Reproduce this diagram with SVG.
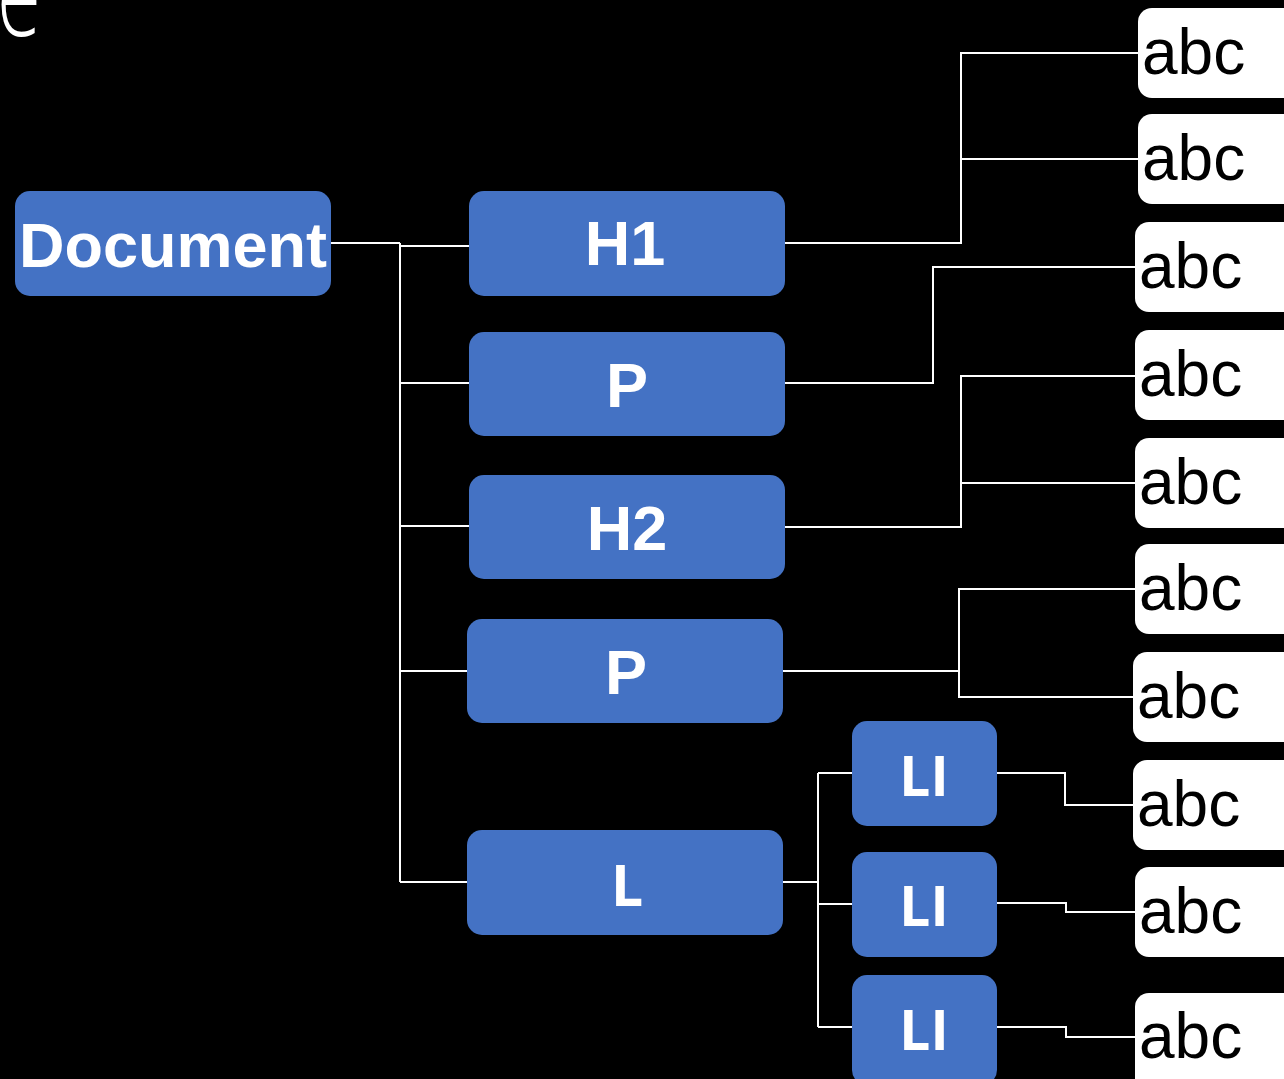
<svg xmlns="http://www.w3.org/2000/svg" width="1284" height="1079" viewBox="0 0 1284 1079">
  <style>
    .node { fill: #4472C4; }
    .leaf { fill: #FFFFFF; }
    .lbl { fill: #FFFFFF; font-family: "Liberation Sans", Arial, sans-serif; font-weight: bold; text-anchor: middle; }
    .lbl2 { fill: #FFFFFF; font-family: "Open Sans", "Liberation Sans", sans-serif; font-weight: bold; text-anchor: middle; }
    .txt { fill: #000000; font-family: "Liberation Sans", Arial, sans-serif; font-size: 64px; }
    .wire { fill: none; stroke: #FFFFFF; stroke-width: 2; }
  </style>
  <rect x="0" y="0" width="1284" height="1079" fill="#000000"/>

  <!-- clipped caption glyph at the top-left corner -->
  <text x="-3" y="24" transform="scale(1,1.5)" fill="#FFFFFF" font-family="'Open Sans', sans-serif" font-weight="300" font-size="80">e</text>

  <!-- connectors -->
  <g id="connectors" class="wire">
    <path d="M331,243 H400 M400,243 V882"/>
    <path d="M400,246 H469"/>
    <path d="M400,383 H469"/>
    <path d="M400,526 H469"/>
    <path d="M400,671 H467"/>
    <path d="M400,882 H467"/>
    <path d="M785,243 H961 V53 H1138"/>
    <path d="M961,159 H1138"/>
    <path d="M785,383 H933 V267 H1135"/>
    <path d="M785,527 H961 V376 H1135"/>
    <path d="M961,483 H1135"/>
    <path d="M783,671 H959 V589 H1135"/>
    <path d="M959,671 V697 H1133"/>
    <path d="M783,882 H818"/>
    <path d="M818,773 V1027"/>
    <path d="M818,773 H852"/>
    <path d="M818,904 H852"/>
    <path d="M818,1027 H852"/>
    <path d="M997,773 H1065 V805 H1133"/>
    <path d="M997,903 H1066 V912 H1135"/>
    <path d="M997,1027 H1066 V1037 H1135"/>
  </g>

  <!-- element nodes -->
  <g id="document">
    <rect class="node" x="15" y="191" width="316" height="105" rx="15"/>
    <text class="lbl" x="173" y="267" font-size="63">Document</text>
  </g>
  <g id="h1">
    <rect class="node" x="469" y="191" width="316" height="105" rx="15"/>
    <text class="lbl" x="625" y="265" font-size="63">H1</text>
  </g>
  <g id="p1">
    <rect class="node" x="469" y="332" width="316" height="104" rx="15"/>
    <text class="lbl" x="627" y="407" font-size="63">P</text>
  </g>
  <g id="h2">
    <rect class="node" x="469" y="475" width="316" height="104" rx="15"/>
    <text class="lbl" x="627" y="550" font-size="63">H2</text>
  </g>
  <g id="p2">
    <rect class="node" x="467" y="619" width="316" height="104" rx="15"/>
    <text class="lbl" x="626" y="694" font-size="63">P</text>
  </g>
  <g id="l">
    <rect class="node" x="467" y="830" width="316" height="105" rx="15"/>
    <text class="lbl2" x="627" y="906" font-size="57">L</text>
  </g>
  <g id="li1">
    <rect class="node" x="852" y="721" width="145" height="105" rx="15"/>
    <text class="lbl2" x="924" y="796" font-size="55">LI</text>
  </g>
  <g id="li2">
    <rect class="node" x="852" y="852" width="145" height="105" rx="15"/>
    <text class="lbl2" x="924" y="926" font-size="55">LI</text>
  </g>
  <g id="li3">
    <rect class="node" x="852" y="975" width="145" height="110" rx="15"/>
    <text class="lbl2" x="924" y="1050" font-size="55">LI</text>
  </g>

  <!-- text leaves -->
  <g id="t1"><rect class="leaf" x="1138" y="8" width="170" height="90" rx="14"/><text class="txt" x="1142" y="74">abc</text></g>
  <g id="t2"><rect class="leaf" x="1138" y="114" width="170" height="90" rx="14"/><text class="txt" x="1142" y="180">abc</text></g>
  <g id="t3"><rect class="leaf" x="1135" y="222" width="170" height="90" rx="14"/><text class="txt" x="1139" y="288">abc</text></g>
  <g id="t4"><rect class="leaf" x="1135" y="330" width="170" height="90" rx="14"/><text class="txt" x="1139" y="396">abc</text></g>
  <g id="t5"><rect class="leaf" x="1135" y="438" width="170" height="90" rx="14"/><text class="txt" x="1139" y="504">abc</text></g>
  <g id="t6"><rect class="leaf" x="1135" y="544" width="170" height="90" rx="14"/><text class="txt" x="1139" y="610">abc</text></g>
  <g id="t7"><rect class="leaf" x="1133" y="652" width="170" height="90" rx="14"/><text class="txt" x="1137" y="718">abc</text></g>
  <g id="t8"><rect class="leaf" x="1133" y="760" width="170" height="90" rx="14"/><text class="txt" x="1137" y="826">abc</text></g>
  <g id="t9"><rect class="leaf" x="1135" y="867" width="170" height="90" rx="14"/><text class="txt" x="1139" y="933">abc</text></g>
  <g id="t10"><rect class="leaf" x="1135" y="993" width="170" height="100" rx="14"/><text class="txt" x="1139" y="1058">abc</text></g>
</svg>
